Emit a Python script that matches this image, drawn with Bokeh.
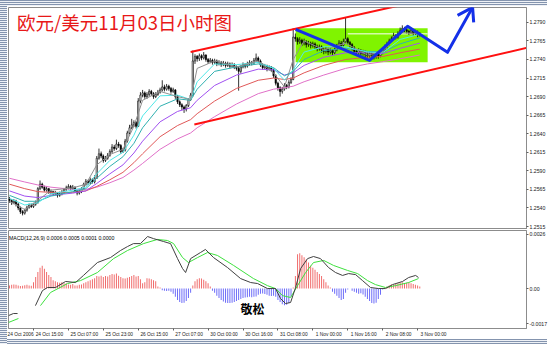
from bokeh.plotting import figure
from bokeh.models import Range1d, FixedTicker, Label, Spacer, LinearAxis, NumeralTickFormatter
from bokeh.layouts import row, column
from bokeh.embed import file_html
from bokeh.resources import INLINE
from bokeh.core.properties import value

NaN = float("nan")

# ---------------- texts ----------------
title_text = ["欧元/美元11月03日小时图"]
macd_caption = ["MACD(12,26,9) 0.0006 0.0005 0.0001 0.0000"]
watermark_text = "敬松"
last_price_text = "1.2774"

# ---------------- hourly EUR/USD bars (pips above 1.2500) ----------------
open_pips = [52,50,47,49,45,40,35,33,37,41,44,42,45,
47,66,72,68,64,66,61,62,59,60,57,59,
61,65,67,69,66,68,63,60,62,66,72,76,74,78,75,
80,107,113,110,104,107,111,116,122,120,126,124,116,118,130,141,148,152,155,
150,184,192,195,190,193,197,194,190,193,196,199,203,200,204,201,197,199,190,183,179,176,173,178,186,
192,238,244,241,245,242,246,240,237,239,236,238,234,236,233,235,232,234,231,233,230,228,224,230,233,231,234,236,235,239,242,238,233,229,231,227,229,226,218,208,202,197,200,205,203,209,
213,270,268,264,266,262,264,260,262,259,261,257,255,257,253,251,254,250,252,249,253,258,262,259,264,268,263,260,256,251,249,252,248,250,247,245,248,246,244,247,245,249,253,257,261,265,268,272,270,275,279,282,280,278,276,279,275,277,273]
high_pips = [55,52,52,51,47,42,37,39,43,46,46,47,50,
68,77,74,70,69,67,65,63,63,61,62,64,
67,70,72,71,71,69,64,65,68,74,79,78,81,80,84,
110,120,116,112,110,114,119,126,125,132,129,126,121,133,144,152,160,158,157,
188,196,199,197,196,200,199,196,196,199,202,212,206,207,206,203,202,200,192,185,181,178,180,188,195,
252,247,246,248,247,250,247,242,242,241,241,240,239,238,238,237,237,236,236,235,232,230,232,236,235,237,239,238,242,248,244,240,235,234,233,232,231,228,220,210,204,203,208,207,212,216,
282,275,270,270,268,268,266,265,264,264,263,260,260,259,256,257,256,255,254,256,261,266,265,268,297,270,265,262,258,254,255,254,253,252,250,251,250,249,250,249,252,256,260,264,268,271,276,274,278,283,286,284,282,280,282,281,280,279,277]
low_pips = [47,44,45,42,37,32,30,31,35,39,40,40,43,
46,64,66,62,62,59,58,56,57,54,55,57,
59,63,65,63,64,61,57,58,60,64,70,71,72,73,73,
79,105,107,101,102,105,109,114,117,118,121,113,114,116,128,139,146,149,147,
149,181,189,187,187,190,191,187,188,191,194,197,197,198,198,194,195,187,180,176,172,168,170,176,184,
190,234,237,238,239,240,237,234,235,233,234,231,232,230,231,229,230,228,229,227,225,198,221,228,228,229,232,232,233,237,235,230,226,227,224,225,223,215,205,198,190,194,198,200,201,207,
212,264,260,261,258,259,256,257,255,256,254,251,252,249,247,248,246,247,245,247,251,256,255,257,262,260,256,252,248,245,246,244,245,243,241,242,242,240,241,241,243,247,251,255,259,263,266,267,268,273,277,277,275,273,274,272,273,270,271]
close_pips = [50,47,49,45,40,35,33,37,41,44,42,45,47,
66,72,68,64,66,61,62,59,60,57,59,61,
65,67,69,66,68,63,60,62,66,72,76,74,78,75,80,
107,113,110,104,107,111,116,122,120,126,124,116,118,130,141,148,152,155,150,
184,192,195,190,193,197,194,190,193,196,199,203,200,204,201,197,199,190,183,179,176,173,178,186,192,
238,244,241,245,242,246,240,237,239,236,238,234,236,233,235,232,234,231,233,230,228,224,230,233,231,234,236,235,239,242,238,233,229,231,227,229,226,218,208,202,197,200,205,203,209,213,
270,268,264,266,262,264,260,262,259,261,257,255,257,253,251,254,250,252,249,253,258,262,259,264,268,263,260,256,251,249,252,248,250,247,245,248,246,244,247,245,249,253,257,261,265,268,272,270,275,279,282,280,278,276,279,275,277,273,274]

# ---------------- moving averages read at sample bars (pips above 1.2500) ----------------
ma_bars = [1, 8, 14, 20, 30, 36, 41, 47, 53, 58, 62, 70, 78, 84, 87, 95, 105, 115, 122, 127, 131, 136, 145, 155, 165, 172, 180, 189]
ma_gray = [49,38,50,64,67,72,98,112,119,150,185,197,190,186,228,238,230,238,222,203,240,265,253,262,246,250,276,275]
ma_cyan = [53,44,47,59,64,68,86,104,115,138,164,191,192,186,210,234,233,236,228,212,226,250,257,257,250,249,267,274]
ma_teal = [57,49,49,56,62,66,80,96,109,127,148,177,187,185,200,224,230,234,229,218,224,240,252,255,251,250,261,269]
ma_violet = [63,56,54,57,60,63,73,86,98,114,130,156,170,175,185,205,219,227,226,219,222,232,243,249,249,248,255,262]
ma_red = [72,66,62,61,61,63,69,78,88,101,113,136,151,159,167,184,201,212,215,213,215,222,232,240,243,244,249,254]
ma_pink = [80,75,71,68,65,65,68,74,81,91,100,119,133,141,148,163,180,194,200,202,204,210,219,228,234,237,241,246]

# ---------------- drawn objects (bar index, price) ----------------
upper_channel_bar = [84.0, 200.0]
upper_channel_price = [1.2750, 1.2826]
lower_channel_bar = [85.7, 238.5]
lower_channel_price = [1.26525, 1.27560]
zigzag_bar = [132.1, 166.0, 183.4, 201.7, 213.2]
zigzag_price = [1.27806, 1.27388, 1.27846, 1.27496, 1.28102]
arrow_wing_bar = [206.3, 213.2, 213.7]
arrow_wing_price = [1.27994, 1.28102, 1.27900]
box_bar = [132.1, 192.6]
box_price = [1.27361, 1.27819]
level_bar = [156.0, 192.6]
level_price = [1.27745, 1.27745]

# ---------------- MACD (units of 0.00001) ----------------
macd_bar = [0.55,2.8,4.7,NaN,12.9,16.1,18.4,22.1,26.7,31.3,34.9,41.3,47.3,51.9,55.1,57.8,61.0,64.3,67.0,71.6,74.8,78.0,80.3,81.7,
            84.0,88.5,90.8,94.5,100.9,106.9,111.5,114.7,119.2,122.9,125.2,127.5,129.8,132.1,134.4,137.6,140.3,143.5,147.2,150.4,
            153.6,156.4,159.6,162.8,166.4,170.1,173.3,176.5,181.1,183.9,187.1,188.4]
macd_val = [-130,-120,-120,NaN,-82,-10,5,5,34,29,63,125,149,183,202,216,216,250,240,226,216,144,96,77,
            144,173,188,149,101,48,29,24,0,0,-48,-72,-67,5,96,144,154,144,101,77,
            63,72,67,38,5,0,0,19,34,53,63,53]
signal_bar = [0.55,5.1,NaN,15.2,19.8,27.6,33.5,41.3,48.7,55.1,62.4,68.8,73.4,76.2,80.3,83.0,87.2,91.7,96.3,103.7,
              112.8,119.2,122.9,126.1,129.8,133.0,136.7,140.3,145.0,149.5,155.9,160.5,165.1,168.7,173.3,177.9,183.9,188.4]
signal_val = [-163,-144,NaN,-82,-19,24,38,77,144,183,216,236,231,216,149,125,149,173,159,111,
              48,14,0,-34,-43,14,77,125,135,111,87,72,38,19,5,14,29,48]
hist_val = [15,18,20,18,15,12, 14,16,18,15,14, 30,55,80,100,110, 95,80,65,55, 40,35,30,28,30,25,25,
            20,18,22,15, 15,18,20,25,30,35,40,45,50, 60,58,62,55,60,58,65,70,68,72, 62,55,50,48,52,55,
            60,65,58,60,45, 25,30, 50,48,45, 40,35, 10,5, -8,-10,-12,-10,-15,
            -25,-40,-55,-65,-70,-68,-60,-45,-20, 15,35,45,50,48,42,35,25,10,
            -10,-20,-35,-45,-55,-62,-68,-70,-70,-68,-65,-60,-55,-50, -45,-43,-42,-40,-42,-40,-38,
            -30,-25,-24,-26, -30,-34,-36,-34,-40, -55,-65,-75,-80,-78,-70,-40, 5,60, 165,170,
            160,150,140,125,110, 100,90,80,70,60, 45,30,15,5, -15,-25,-35,-45,-55,-50,-20, -5,0,
            -10,-15,-20,-25,-22,-28, -40,-50,-60,-70,-72,-68,-50,-30, -5,5,
            10,15,20,18,22,25,28,30,25,28,30,25,22,18,15,10]

# ---------------- axes ----------------
price_ticks = [1.2515, 1.2540, 1.2565, 1.2590, 1.2615, 1.2640, 1.2665, 1.2690, 1.2715, 1.2740, 1.2765, 1.2790]
macd_ticks = [-0.0017, 0.0, 0.0026]
macd_tick_labels = ["-0.0017", "0.00", "0.0026"]
time_tick_bars = [12, 28, 44, 60, 76, 92, 108, 124, 140, 156, 172, 188]
time_tick_labels = ["24 Oct 15:00", "25 Oct 07:00", "25 Oct 23:00", "26 Oct 15:00", "27 Oct 07:00",
                    "30 Oct 00:00", "30 Oct 16:00", "31 Oct 08:00", "1 Nov 00:00", "1 Nov 16:00",
                    "2 Nov 08:00", "3 Nov 00:00"]
first_date_label = "24 Oct 2006"

# ---------------- derived ----------------
def px(v):
    return 1.25 + v / 10000.0

bars = list(range(1, len(close_pips) + 1))
o = [px(v) for v in open_pips]
h = [px(v) for v in high_pips]
l = [px(v) for v in low_pips]
c = [px(v) for v in close_pips]
up_x = [b for b, oo, cc in zip(bars, o, c) if cc >= oo]
up_o = [oo for oo, cc in zip(o, c) if cc >= oo]
up_c = [cc for oo, cc in zip(o, c) if cc >= oo]
dn_x = [b for b, oo, cc in zip(bars, o, c) if cc < oo]
dn_o = [oo for oo, cc in zip(o, c) if cc < oo]
dn_c = [cc for oo, cc in zip(o, c) if cc < oo]

AX_FONT = "Liberation Sans"
AX_SIZE = "5.2px"
X_SIZE = "4.8px"
GRAYLINE = "#8c8c8c"

x_range = Range1d(0.55, 237.9)

# ---------------- main price figure ----------------
p1 = figure(frame_width=518, frame_height=222, x_range=x_range, y_range=Range1d(1.2511, 1.2810),
            output_backend="svg", toolbar_location=None, x_axis_location=None, y_axis_location="right",
            min_border_left=1, min_border_right=21, min_border_top=1, min_border_bottom=0,
            background_fill_color="white", border_fill_color="white")
p1.grid.visible = False
p1.outline_line_color = GRAYLINE

p1.quad(left=[box_bar[0]], right=[box_bar[1]], bottom=[box_price[0]], top=[box_price[1]],
        fill_color="#80f400", line_color=None)
p1.line(level_bar, level_price, line_color="white", line_width=1)

p1.segment(x0=bars, y0=l, x1=bars, y1=h, line_color="black", line_width=0.8)
p1.vbar(x=up_x, bottom=up_o, top=up_c, width=0.6, fill_color="white", line_color="black", line_width=0.6)
p1.vbar(x=dn_x, bottom=dn_c, top=dn_o, width=0.6, fill_color="black", line_color="black", line_width=0.6)

for series, col in [(ma_pink, "#e070c8"), (ma_red, "#e05858"), (ma_violet, "#a050f0"),
                    (ma_teal, "#30b0b0"), (ma_cyan, "#50e8e8"), (ma_gray, "#909090")]:
    p1.line(ma_bars, [px(v) for v in series], line_color=col, line_width=1)

p1.line(upper_channel_bar, upper_channel_price, line_color="#ff1010", line_width=2)
p1.line(lower_channel_bar, lower_channel_price, line_color="#ff1010", line_width=2)
p1.line(zigzag_bar, zigzag_price, line_color="#1430e8", line_width=3, line_join="round")
p1.line(arrow_wing_bar, arrow_wing_price, line_color="#1430e8", line_width=3, line_join="miter")

p1.text(x=[4.5], y=[1.28075], text=title_text, text_font=value("Noto Sans CJK SC"),
        text_font_size="18.5px", text_color="#e81818", text_baseline="top", text_align="left")

p1.yaxis.ticker = FixedTicker(ticks=price_ticks)
p1.yaxis.formatter = NumeralTickFormatter(format="0.0000")

last_lbl = Label(x=238.6, y=1.2774, text=last_price_text, text_font=AX_FONT, text_font_size=AX_SIZE,
                 text_color="white", background_fill_color="black", text_baseline="middle",
                 text_align="left", x_offset=0)
p1.add_layout(last_lbl)

# ---------------- MACD figure ----------------
p2 = figure(frame_width=518, frame_height=98, x_range=x_range, y_range=Range1d(-0.00192, 0.00279),
            output_backend="svg", toolbar_location=None, x_axis_location=None, y_axis_location="right",
            min_border_left=1, min_border_right=21, min_border_top=1, min_border_bottom=10,
            background_fill_color="white", border_fill_color="white")
p2.grid.visible = False
p2.outline_line_color = GRAYLINE

hv = [v / 100000.0 for v in hist_val]
pos_x = [b for b, v in zip(bars, hv) if v >= 0]
pos_v = [v for v in hv if v >= 0]
neg_x = [b for b, v in zip(bars, hv) if v < 0]
neg_v = [v for v in hv if v < 0]
p2.vbar(x=pos_x, bottom=0, top=pos_v, width=0.45, fill_color="#f06a6a", line_color=None)
p2.vbar(x=neg_x, top=0, bottom=neg_v, width=0.45, fill_color="#6a6af8", line_color=None)
p2.line(signal_bar, [v / 100000.0 for v in signal_val], line_color="#3ee03e", line_width=1)
p2.line(macd_bar, [v / 100000.0 for v in macd_val], line_color="#404040", line_width=1)

p2.text(x=[0.8], y=[0.00245], text=macd_caption, text_font=value(AX_FONT), text_font_size="5.2px",
        text_color="black", text_baseline="middle", text_align="left")

wm = Label(x=112.4, y=-0.00096, text=watermark_text, text_font="Noto Sans CJK SC", text_font_size="12px",
           text_font_style="bold", text_color="black", background_fill_color="white",
           text_align="center", text_baseline="middle")
p2.add_layout(wm)

p2.yaxis.ticker = FixedTicker(ticks=macd_ticks)
p2.yaxis.major_label_overrides = {t: s for t, s in zip(macd_ticks, macd_tick_labels)}

tick_axis = LinearAxis(ticker=FixedTicker(ticks=time_tick_bars), major_tick_out=2, major_tick_in=0,
                       minor_tick_out=0, minor_tick_in=0, axis_line_color=GRAYLINE,
                       major_tick_line_color="#606060", major_label_text_font_size="1px",
                       major_label_overrides={t: "" for t in time_tick_bars}, major_label_standoff=0)
label_shift = 7.3
label_pos = [0.6] + [t + label_shift for t in time_tick_bars]
label_txt = [first_date_label] + time_tick_labels
label_axis = LinearAxis(ticker=FixedTicker(ticks=label_pos), major_tick_out=0, major_tick_in=0,
                        minor_tick_out=0, minor_tick_in=0, axis_line_color=None,
                        major_label_overrides={t: s for t, s in zip(label_pos, label_txt)},
                        major_label_standoff=1)
p2.add_layout(tick_axis, "below")
p2.add_layout(label_axis, "below")

for ax in [p1.yaxis[0], p2.yaxis[0]]:
    ax.major_label_text_font = AX_FONT
    ax.major_label_text_font_size = AX_SIZE
    ax.major_label_text_color = "#202020"
    ax.axis_line_color = GRAYLINE
    ax.major_tick_out = 2
    ax.major_tick_in = 0
    ax.minor_tick_out = 0
    ax.minor_tick_in = 0
    ax.major_tick_line_color = "#606060"
    ax.major_label_standoff = 1
label_axis.major_label_text_font = AX_FONT
label_axis.major_label_text_font_size = X_SIZE
label_axis.major_label_text_color = "#202020"

# ---------------- striped frame ----------------
stripe = {"background": "repeating-linear-gradient(180deg, #8494ae 0px, #8494ae 1px, #eef1f6 1px, #eef1f6 2px)"}
left_sp = Spacer(width=7, height=344, styles=stripe)
right_sp = Spacer(width=3, height=344, styles=stripe)
top_sp = Spacer(width=540, height=6, styles=stripe)
bot_sp = Spacer(width=540, height=6, styles=stripe)

layout = row(left_sp, column(top_sp, p1, p2, bot_sp), right_sp)

open("out.html", "w").write(file_html(layout, INLINE))
